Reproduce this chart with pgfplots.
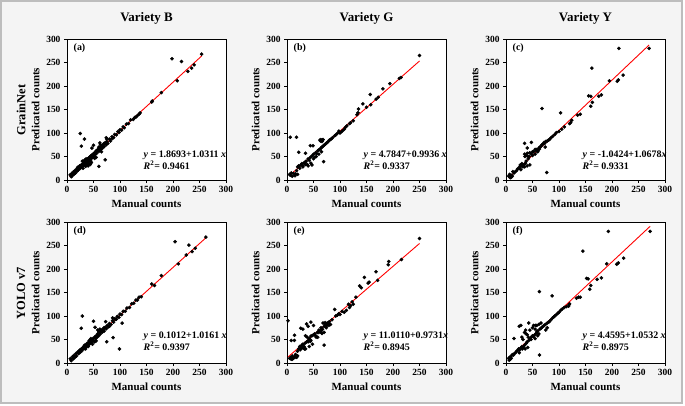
\documentclass[border=0pt]{standalone}
\usepackage{pgfplots}
\pgfplotsset{compat=1.18}
\usepackage{fontspec}
\setmainfont{Liberation Serif}
\definecolor{bgc}{HTML}{F4F4F4}
\definecolor{brd}{HTML}{BDBDBD}
\pgfplotsset{
  panel/.style={
    scale only axis, width=159bp, height=141bp,
    xmin=0, xmax=300, ymin=0, ymax=300,
    xtick={0,50,...,300}, ytick={0,50,...,300},
    tick align=outside, tick pos=left, major tick length=3bp,
    axis line style={line width=0.8bp},
    every tick/.style={black, line width=0.8bp},
    axis background/.style={fill=white},
    /pgf/number format/assume math mode=true,
    ticklabel style={font=\bfseries\fontsize{9.5}{10}\selectfont},
    anchor=north west,
    xlabel={Manual counts}, ylabel={Predicated counts},
    label style={font=\bfseries\fontsize{11}{12}\selectfont},
    clip=false,
  },
  pts/.style={only marks, mark=*, mark size=1.6bp, black},
  reg/.style={red, line width=0.9bp, no marks},
}
\tikzset{
  eqnode/.style={anchor=west, align=left, font=\bfseries\fontsize{10}{11.5}\selectfont},
  lab/.style={anchor=north west, font=\bfseries\fontsize{10}{12}\selectfont},
}
\newcommand{\eqn}[2]{\textit{y} = #1\\\textit{R}\textsuperscript{2}= #2}
\begin{document}
\begin{tikzpicture}
\path[use as bounding box] (0bp,0bp) rectangle (685bp,-406bp);
\draw[brd, fill=bgc, line width=1.2bp] (1bp,-1bp) rectangle (682bp,-403bp);
\node[font=\bfseries\fontsize{13}{15}\selectfont] at (146.5bp,-18bp) {Variety B};
\node[font=\bfseries\fontsize{13}{15}\selectfont] at (366.5bp,-18bp) {Variety G};
\node[font=\bfseries\fontsize{13}{15}\selectfont] at (585.5bp,-18bp) {Variety Y};
\node[font=\bfseries\fontsize{12.5}{15}\selectfont, rotate=90] at (21bp,-110bp) {GrainNet};
\node[font=\bfseries\fontsize{12.5}{15}\selectfont, rotate=90] at (21bp,-293bp) {YOLO v7};

% (a)
\begin{axis}[panel, at={(67bp,-39bp)}]
\addplot[pts] coordinates {(6,11) (8,7) (9,14) (10,9) (12,17) (13,12) (15,20) (16,15) (18,23) (19,19) (20,25) (21,21) (22,27) (24,24) (25,30) (26,26) (27,32) (28,28) (29,34) (30,30) (31,36) (32,32) (33,38) (34,34) (35,40) (36,36) (37,43) (38,38) (39,45) (40,40) (41,47) (42,42) (43,49) (44,44) (45,51) (46,46) (47,53) (48,48) (50,56) (51,51) (52,58) (53,54) (55,62) (56,57) (58,65) (60,61) (61,68) (62,63) (64,71) (65,66) (66,73) (68,69) (69,76) (70,71) (72,79) (74,75) (75,82) (77,78) (80,87) (82,83) (85,92) (88,90) (90,97) (93,96) (96,103) (98,101) (100,107) (103,106) (106,113) (108,111) (112,119) (116,120) (120,128) (125,129) (128,133) (130,134) (133,137) (136,140) (138,143) (160,166) (161,168) (178,186) (208,211) (228,231) (235,238) (240,245) (254,268) (198,258) (216,252) (25,99) (27,72) (33,87) (29,40) (33,42) (36,45) (38,33) (40,30) (45,40) (47,68) (50,74) (46,37) (55,48) (60,29) (62,79) (65,60) (70,78) (72,43) (74,90) (75,87) (85,88) (20,27) (24,30) (30,25) (35,29) (42,35) (44,33) (52,46) (57,62) (60,70) (63,75)};
\addplot[reg] coordinates {(5,7.03) (254,263.77)};
\node[lab] at (rel axis cs:0.02,0.99) {(a)};
\node[eqnode] at (axis cs:138,42) {\eqn{1.8693+1.0311 \textit{x}}{0.9461}};
\end{axis}

% (b)
\begin{axis}[panel, at={(287bp,-39bp)}]
\addplot[pts] coordinates {(250,265) (212,216) (215,218) (194,205) (181,194) (168,172) (172,176) (157,182) (158,160) (143,162) (150,155) (135,151) (134,143) (132,139) (100,100) (103,103) (105,105) (108,108) (110,112) (113,115) (118,120) (120,122) (125,126) (98,104) (6,91) (18,91) (22,59) (44,73) (49,73) (63,83) (64,86) (65,84) (66,82) (67,85) (68,86) (62,85) (69,39) (35,57) (47,32) (16,13) (20,12) (5,12) (6,10) (8,15) (10,8) (12,14) (15,9) (18,20) (20,28) (22,30) (24,25) (26,32) (28,35) (30,30) (32,36) (34,38) (36,40) (38,33) (40,45) (42,42) (44,48) (46,50) (48,52) (50,55) (52,48) (54,58) (56,56) (58,62) (60,64) (62,65) (64,68) (66,70) (68,72) (70,74) (72,76) (74,78) (76,80) (78,82) (80,85) (82,86) (84,88) (86,90) (90,94) (92,96) (95,99) (30,28) (35,33) (45,36) (50,45) (55,50) (60,55) (65,60) (40,30)};
\addplot[reg] coordinates {(5,9.75) (250,253.2)};
\node[lab] at (rel axis cs:0.02,0.99) {(b)};
\node[eqnode] at (axis cs:138,42) {\eqn{4.7847+0.9936 \textit{x}}{0.9337}};
\end{axis}

% (c)
\begin{axis}[panel, at={(506bp,-39bp)}]
\addplot[pts] coordinates {(270,280) (213,280) (221,223) (210,210) (212,213) (195,211) (162,238) (180,181) (175,178) (156,179) (160,178) (163,165) (160,157) (140,140) (135,138) (124,127) (122,122) (120,120) (103,143) (68,152) (77,16) (110,113) (105,108) (100,103) (95,101) (92,97) (88,93) (85,90) (82,86) (80,85) (78,83) (75,82) (73,78) (35,78) (48,80) (40,68) (74,70) (5,8) (7,12) (8,5) (10,10) (12,8) (13,18) (15,15) (20,20) (25,25) (27,32) (28,22) (30,35) (32,30) (34,33) (35,28) (37,36) (38,40) (40,30) (42,45) (44,50) (45,32) (48,55) (50,52) (52,60) (55,55) (57,62) (58,65) (60,60) (62,68) (64,70) (66,72) (68,75) (70,77) (72,80) (35,55) (38,52) (40,57) (45,58) (50,60) (55,65) (60,62) (63,66) (36,50) (42,50) (30,30) (32,28) (26,28) (22,24) (18,18) (10,6) (6,10)};
\addplot[reg] coordinates {(5,4.30) (270,287.3)};
\node[lab] at (rel axis cs:0.02,0.99) {(c)};
\node[eqnode] at (axis cs:138,42) {\eqn{-1.0424+1.0678\textit{x}}{0.9331}};
\end{axis}

% (d)
\begin{axis}[panel, at={(67bp,-222bp)}]
\addplot[pts] coordinates {(6,9) (8,5) (10,13) (12,9) (13,16) (15,12) (17,20) (18,15) (20,23) (22,20) (23,26) (25,23) (27,30) (28,26) (30,33) (32,30) (33,36) (35,33) (36,39) (38,36) (40,43) (41,39) (43,46) (44,42) (46,49) (47,45) (49,52) (50,48) (52,55) (54,52) (55,58) (57,55) (58,62) (60,58) (62,65) (63,62) (65,68) (67,66) (68,72) (70,68) (72,76) (74,73) (76,80) (78,77) (80,84) (83,82) (86,90) (88,87) (90,94) (93,93) (95,99) (98,97) (100,104) (103,103) (106,110) (110,110) (113,117) (118,118) (122,126) (126,127) (130,134) (133,134) (136,140) (140,141) (160,168) (165,165) (178,186) (210,211) (225,230) (236,237) (242,244) (262,268) (204,258) (230,251) (29,100) (27,74) (50,89) (53,76) (73,88) (75,45) (86,96) (87,54) (99,30) (104,85) (40,35) (42,48) (45,52) (48,40) (55,47) (58,70) (60,68) (62,72) (35,30) (38,42) (30,33) (25,28) (33,38) (52,45) (65,70) (70,75) (80,78) (92,93)};
\addplot[reg] coordinates {(5,5.18) (262,266.32)};
\node[lab] at (rel axis cs:0.02,0.99) {(d)};
\node[eqnode] at (axis cs:138,46) {\eqn{0.1012+1.0161 \textit{x}}{0.9397}};
\end{axis}

% (e)
\begin{axis}[panel, at={(287bp,-222bp)}]
\addplot[pts] coordinates {(2,90) (14,59) (8,48) (14,48) (26,74) (30,72) (37,83) (40,78) (45,87) (50,80) (70,38) (250,265) (216,220) (192,216) (191,209) (168,194) (171,176) (155,172) (153,170) (146,182) (137,164) (140,160) (130,140) (123,130) (116,125) (104,110) (98,105) (95,102) (92,100) (90,114) (82,82) (79,80) (108,108) (112,112) (118,118) (120,122) (125,125) (100,103) (5,10) (7,12) (8,8) (10,15) (12,10) (14,13) (16,18) (18,12) (20,25) (22,30) (24,35) (25,28) (27,32) (28,38) (30,40) (32,35) (34,42) (35,30) (37,45) (38,55) (40,48) (42,52) (44,46) (45,57) (47,58) (48,40) (50,60) (52,62) (54,58) (55,55) (57,65) (60,70) (62,68) (64,75) (65,65) (67,72) (68,85) (70,78) (72,86) (74,75) (75,80) (78,84) (10,8) (15,12) (20,15) (35,58) (40,45) (42,35) (45,48) (60,65) (65,70) (72,82) (76,85) (80,88) (85,92) (70,65) (66,63) (58,55) (30,32) (33,30)};
\addplot[reg] coordinates {(2,12.96) (250,254.29)};
\node[lab] at (rel axis cs:0.02,0.99) {(e)};
\node[eqnode] at (axis cs:138,46) {\eqn{11.0110+0.9731\textit{x}}{0.8945}};
\end{axis}

% (f)
\begin{axis}[panel, at={(506bp,-222bp)}]
\addplot[pts] coordinates {(272,280) (193,280) (222,223) (209,210) (212,213) (190,211) (145,238) (152,180) (155,179) (172,178) (180,181) (160,165) (158,157) (133,138) (137,140) (140,140) (119,124) (118,121) (120,126) (87,143) (63,152) (63,17) (15,52) (25,78) (28,80) (43,85) (37,70) (56,80) (62,82) (66,85) (5,10) (6,6) (7,12) (8,8) (9,14) (10,10) (12,18) (14,17) (16,20) (18,22) (20,25) (22,27) (24,30) (25,22) (26,28) (28,32) (30,35) (31,30) (33,34) (35,38) (36,30) (38,42) (40,45) (41,33) (43,48) (45,52) (47,50) (48,55) (50,58) (52,56) (54,60) (55,52) (57,63) (58,66) (60,68) (62,62) (64,72) (66,74) (68,76) (70,78) (72,80) (74,82) (75,70) (77,84) (78,75) (80,87) (82,88) (85,92) (88,96) (90,98) (92,100) (95,103) (98,106) (100,108) (103,112) (106,115) (110,118) (114,120) (30,55) (32,50) (35,65) (38,62) (40,60) (42,55) (45,70) (50,75) (52,80) (55,72) (58,80) (60,58)};
\addplot[reg] coordinates {(5,9.73) (272,290.93)};
\node[lab] at (rel axis cs:0.02,0.99) {(f)};
\node[eqnode] at (axis cs:138,46) {\eqn{4.4595+1.0532 \textit{x}}{0.8975}};
\end{axis}
\end{tikzpicture}
\end{document}
